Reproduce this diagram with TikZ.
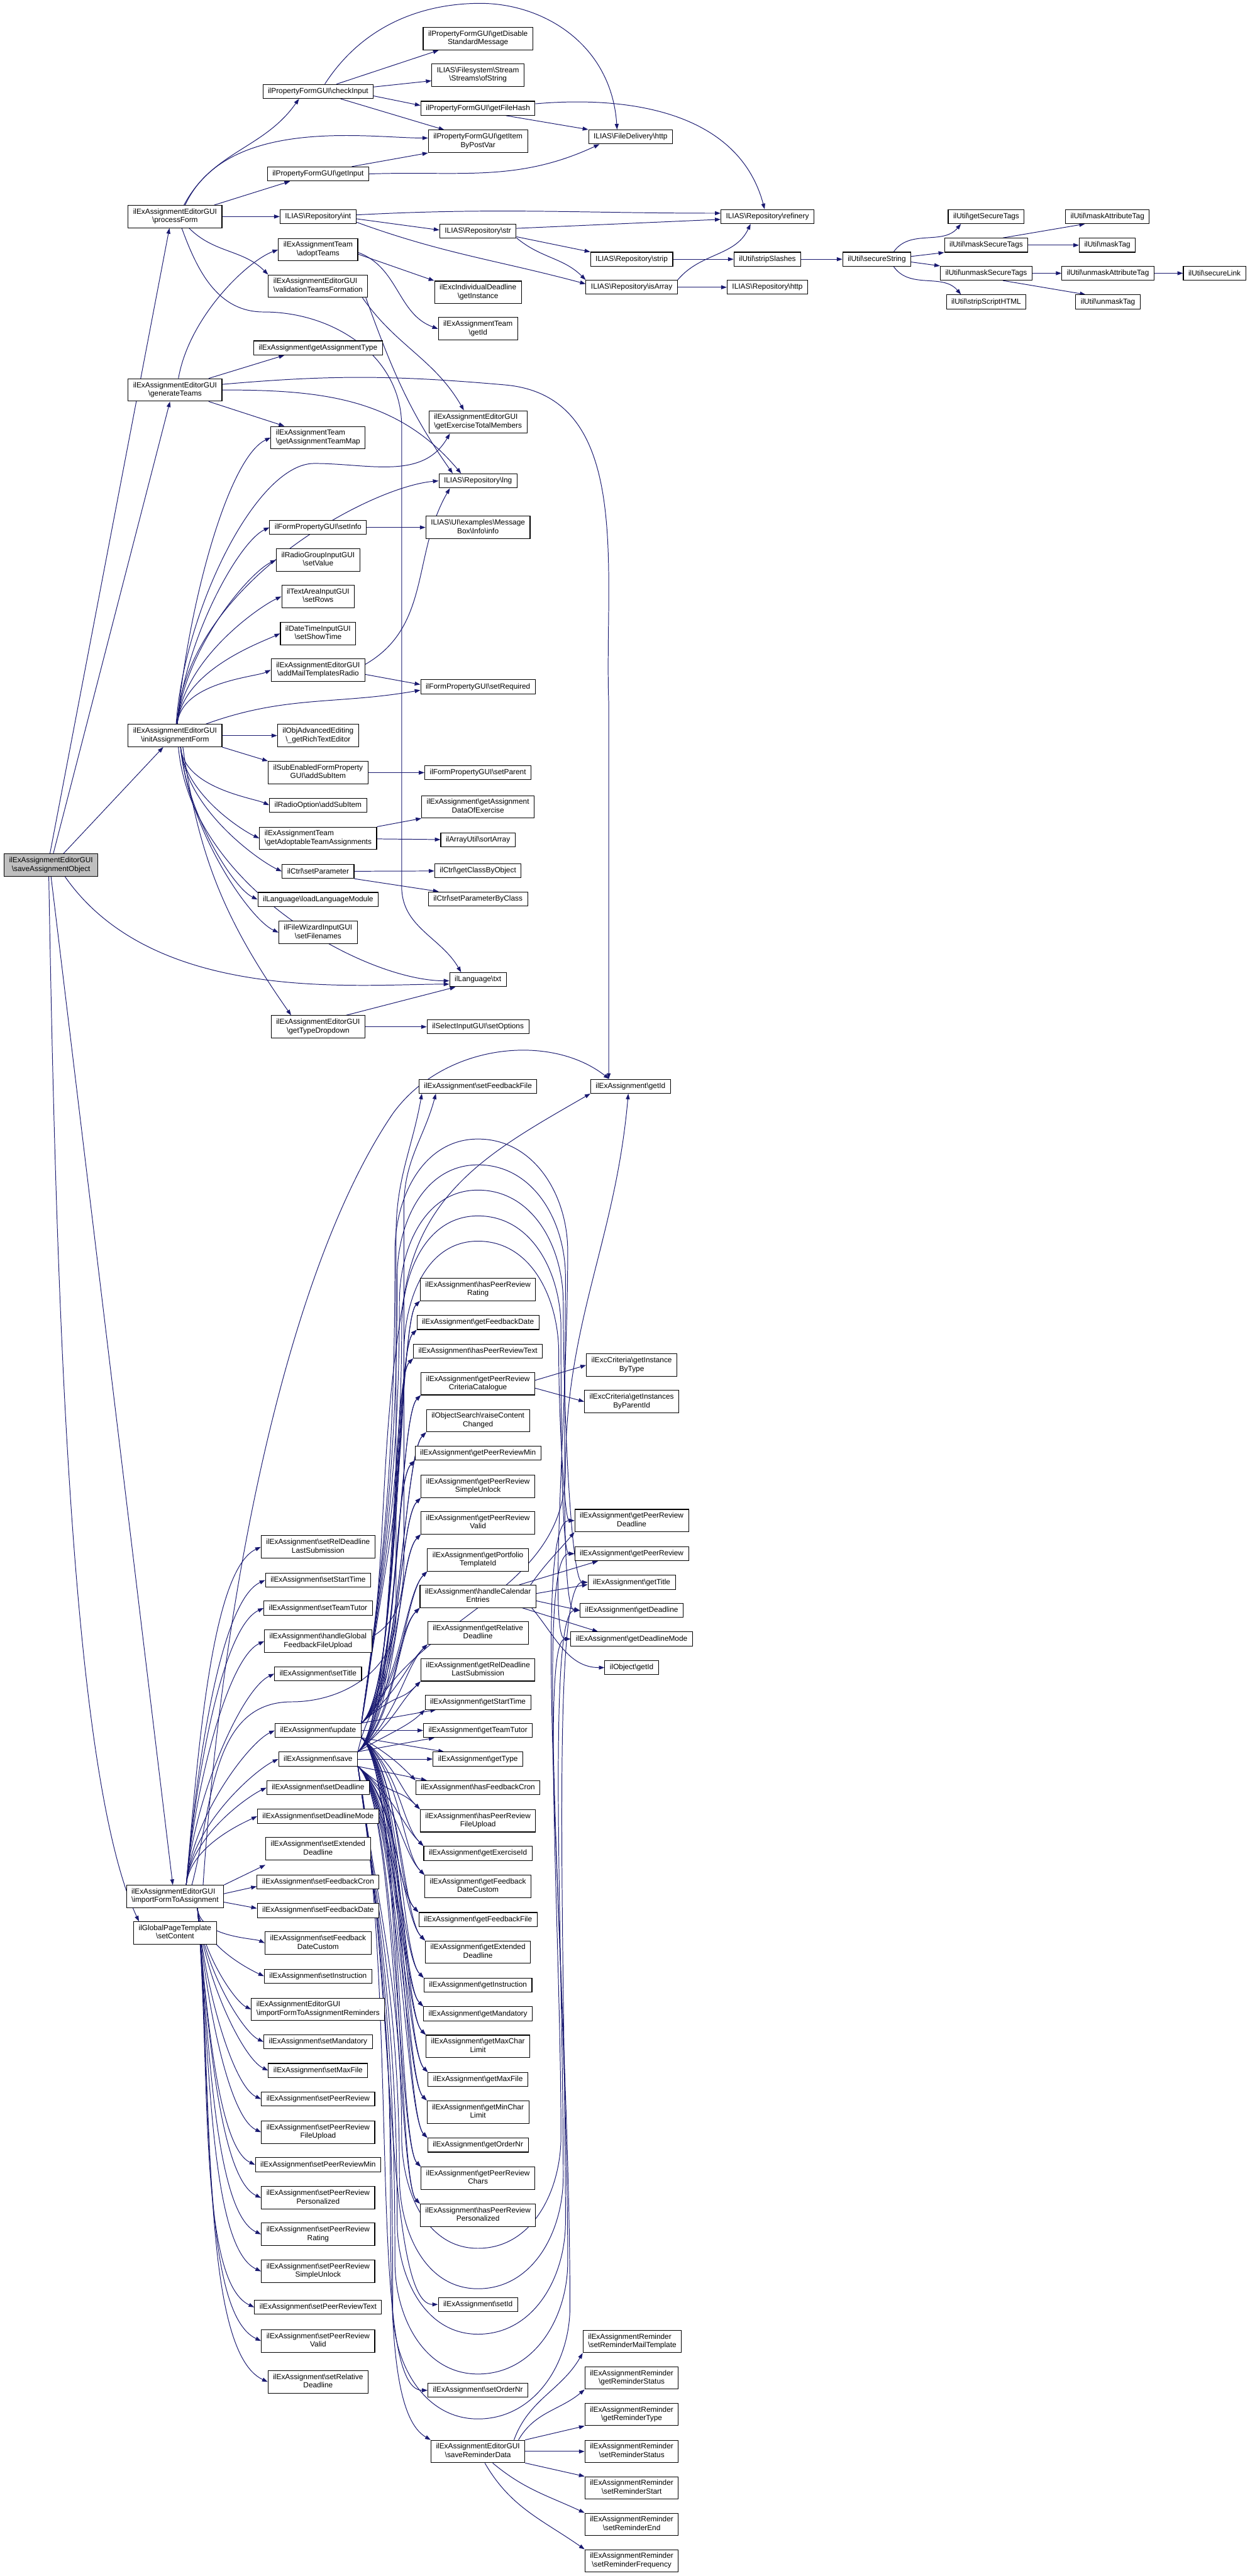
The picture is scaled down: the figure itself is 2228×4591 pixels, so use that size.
\documentclass[tikz,border=0pt]{standalone}
\usepackage{fontspec}
\setmainfont{Liberation Sans}
\usetikzlibrary{arrows.meta,backgrounds}
\definecolor{callblue}{HTML}{191970}
\newcommand\bsl{\textbackslash}
\newcommand\twolines[2]{\begin{tabular}{@{}c@{}}\multicolumn{1}{@{}l@{}}{#1}\\#2\end{tabular}}

\begin{document}
\begin{tikzpicture}[
		x=0.1pt, y=-0.1pt,
		every node/.style={font=\fontsize{1.33pt}{1.5pt}\selectfont},
		fn/.style={draw, line width=0.12pt, fill=white, inner xsep=0.9pt, inner ysep=0.5pt, minimum height=2.5pt},
		call/.style={draw=callblue, line width=0.11pt, -{Triangle[length=1pt,width=0.7pt]}},
		fanup/.style={out=85, in=205, in looseness=0.4},
		fandown/.style={out=-85, in=155, in looseness=0.4}
		]
		\useasboundingbox (0,0) rectangle (2228,4591);

		% callers on the left
		\node[fn, fill=gray!50] (saveObj) at (91,1542) {\twolines{ilExAssignmentEditorGUI}{\bsl saveAssignmentObject}};
		\node[fn] (processForm) at (312,386) {\twolines{ilExAssignmentEditorGUI}{\bsl processForm}};
		\node[fn] (generateTeams) at (312,695) {\twolines{ilExAssignmentEditorGUI}{\bsl generateTeams}};
		\node[fn] (initForm) at (312,1311) {\twolines{ilExAssignmentEditorGUI}{\bsl initAssignmentForm}};
		\node[fn] (importForm) at (312,3380) {\twolines{ilExAssignmentEditorGUI}{\bsl importFormToAssignment}};
		\node[fn] (setContent) at (312,3445) {\twolines{ilGlobalPageTemplate}{\bsl setContent}};

		\node[fn] (checkInput) at (567,163) {ilPropertyFormGUI\bsl checkInput};
		\node[fn] (getInput) at (567,310) {ilPropertyFormGUI\bsl getInput};
		\node[fn] (repInt) at (567,386) {ILIAS\bsl Repository\bsl int};
		\node[fn] (adoptTeams) at (567,445) {\twolines{ilExAssignmentTeam}{\bsl adoptTeams}};
		\node[fn] (validTeams) at (567,510) {\twolines{ilExAssignmentEditorGUI}{\bsl validationTeamsFormation}};
		\node[fn] (getAssignType) at (567,620) {ilExAssignment\bsl getAssignmentType};
		\node[fn] (teamMap) at (567,780) {\twolines{ilExAssignmentTeam}{\bsl getAssignmentTeamMap}};
		\node[fn] (setInfo) at (567,940) {ilFormPropertyGUI\bsl setInfo};
		\node[fn] (radioSetValue) at (567,998) {\twolines{ilRadioGroupInputGUI}{\bsl setValue}};
		\node[fn] (setRows) at (567,1063) {\twolines{ilTextAreaInputGUI}{\bsl setRows}};
		\node[fn] (setShowTime) at (567,1129) {\twolines{ilDateTimeInputGUI}{\bsl setShowTime}};
		\node[fn] (addMailTpl) at (567,1194) {\twolines{ilExAssignmentEditorGUI}{\bsl addMailTemplatesRadio}};
		\node[fn] (richText) at (567,1311) {\twolines{ilObjAdvancedEditing}{\bsl\_getRichTextEditor}};
		\node[fn] (subAddItem) at (567,1377) {\twolines{ilSubEnabledFormProperty}{GUI\bsl addSubItem}};
		\node[fn] (radioAddItem) at (567,1435) {ilRadioOption\bsl addSubItem};
		\node[fn] (adoptable) at (567,1494) {\twolines{ilExAssignmentTeam}{\bsl getAdoptableTeamAssignments}};
		\node[fn] (ctrlSetParam) at (567,1553) {ilCtrl\bsl setParameter};
		\node[fn] (loadLangMod) at (567,1603) {ilLanguage\bsl loadLanguageModule};
		\node[fn] (setFilenames) at (567,1662) {\twolines{ilFileWizardInputGUI}{\bsl setFilenames}};
		\node[fn] (typeDropdown) at (567,1830) {\twolines{ilExAssignmentEditorGUI}{\bsl getTypeDropdown}};

		\node[fn] (setRelLast) at (567,2757) {\twolines{ilExAssignment\bsl setRelDeadline}{LastSubmission}};
		\node[fn] (setStartTime) at (567,2816) {ilExAssignment\bsl setStartTime};
		\node[fn] (setTeamTutor) at (567,2866) {ilExAssignment\bsl setTeamTutor};
		\node[fn] (handleGlobalFb) at (567,2925) {\twolines{ilExAssignment\bsl handleGlobal}{FeedbackFileUpload}};
		\node[fn] (setTitle) at (567,2983) {ilExAssignment\bsl setTitle};
		\node[fn] (update) at (567,3084) {ilExAssignment\bsl update};
		\node[fn] (save) at (567,3135) {ilExAssignment\bsl save};
		\node[fn] (setDeadline) at (567,3186) {ilExAssignment\bsl setDeadline};
		\node[fn] (setDeadlineMode) at (567,3237) {ilExAssignment\bsl setDeadlineMode};
		\node[fn] (setExtDeadline) at (567,3295) {\twolines{ilExAssignment\bsl setExtended}{Deadline}};
		\node[fn] (setFbCron) at (567,3354) {ilExAssignment\bsl setFeedbackCron};
		\node[fn] (setFbDate) at (567,3405) {ilExAssignment\bsl setFeedbackDate};
		\node[fn] (setFbDateCustom) at (567,3463) {\twolines{ilExAssignment\bsl setFeedback}{DateCustom}};
		\node[fn] (setInstruction) at (567,3522) {ilExAssignment\bsl setInstruction};
		\node[fn] (importReminders) at (567,3581) {\twolines{ilExAssignmentEditorGUI}{\bsl importFormToAssignmentReminders}};
		\node[fn] (setMandatory) at (567,3639) {ilExAssignment\bsl setMandatory};
		\node[fn] (setMaxFile) at (567,3690) {ilExAssignment\bsl setMaxFile};
		\node[fn] (setPeerReview) at (567,3741) {ilExAssignment\bsl setPeerReview};
		\node[fn] (setPrFileUpload) at (567,3800) {\twolines{ilExAssignment\bsl setPeerReview}{FileUpload}};
		\node[fn] (setPrMin) at (567,3858) {ilExAssignment\bsl setPeerReviewMin};
		\node[fn] (setPrPersonalized) at (567,3917) {\twolines{ilExAssignment\bsl setPeerReview}{Personalized}};
		\node[fn] (setPrRating) at (567,3982) {\twolines{ilExAssignment\bsl setPeerReview}{Rating}};
		\node[fn] (setPrUnlock) at (567,4048) {\twolines{ilExAssignment\bsl setPeerReview}{SimpleUnlock}};
		\node[fn] (setPrText) at (567,4112) {ilExAssignment\bsl setPeerReviewText};
		\node[fn] (setPrValid) at (567,4172) {\twolines{ilExAssignment\bsl setPeerReview}{Valid}};
		\node[fn] (setRelDeadline) at (567,4245) {\twolines{ilExAssignment\bsl setRelative}{Deadline}};

		% callees, fourth column
		\node[fn] (pfDisable) at (852,69) {\twolines{ilPropertyFormGUI\bsl getDisable}{StandardMessage}};
		\node[fn] (fsStream) at (852,134) {\twolines{ILIAS\bsl Filesystem\bsl Stream}{\bsl Streams\bsl ofString}};
		\node[fn] (pfFileHash) at (852,193) {ilPropertyFormGUI\bsl getFileHash};
		\node[fn] (pfItem) at (852,252) {\twolines{ilPropertyFormGUI\bsl getItem}{ByPostVar}};
		\node[fn] (repStr) at (852,412) {ILIAS\bsl Repository\bsl str};
		\node[fn] (indivDeadline) at (852,521) {\twolines{ilExcIndividualDeadline}{\bsl getInstance}};
		\node[fn] (teamGetId) at (852,586) {\twolines{ilExAssignmentTeam}{\bsl getId}};
		\node[fn] (totalMembers) at (852,752) {\twolines{ilExAssignmentEditorGUI}{\bsl getExerciseTotalMembers}};
		\node[fn] (repLng) at (852,857) {ILIAS\bsl Repository\bsl lng};
		\node[fn] (msgBoxInfo) at (852,940) {\twolines{ILIAS\bsl UI\bsl examples\bsl Message}{Box\bsl Info\bsl info}};
		\node[fn] (setRequired) at (852,1224) {ilFormPropertyGUI\bsl setRequired};
		\node[fn] (setParent) at (852,1377) {ilFormPropertyGUI\bsl setParent};
		\node[fn] (dataOfExercise) at (852,1438) {\twolines{ilExAssignment\bsl getAssignment}{DataOfExercise}};
		\node[fn] (sortArray) at (852,1497) {ilArrayUtil\bsl sortArray};
		\node[fn] (getClassByObj) at (852,1552) {ilCtrl\bsl getClassByObject};
		\node[fn] (setParamByClass) at (852,1602) {ilCtrl\bsl setParameterByClass};
		\node[fn] (langTxt) at (852,1746) {ilLanguage\bsl txt};
		\node[fn] (setOptions) at (852,1830) {ilSelectInputGUI\bsl setOptions};
		\node[fn] (setFbFile) at (852,1936) {ilExAssignment\bsl setFeedbackFile};

		\node[fn] (hasPrRating) at (852,2298) {\twolines{ilExAssignment\bsl hasPeerReview}{Rating}};
		\node[fn] (getFbDate) at (852,2357) {ilExAssignment\bsl getFeedbackDate};
		\node[fn] (hasPrText) at (852,2408) {ilExAssignment\bsl hasPeerReviewText};
		\node[fn] (getPrCatalogue) at (852,2466) {\twolines{ilExAssignment\bsl getPeerReview}{CriteriaCatalogue}};
		\node[fn] (raiseChanged) at (852,2532) {\twolines{ilObjectSearch\bsl raiseContent}{Changed}};
		\node[fn] (getPrMin) at (852,2590) {ilExAssignment\bsl getPeerReviewMin};
		\node[fn] (getPrUnlock) at (852,2649) {\twolines{ilExAssignment\bsl getPeerReview}{SimpleUnlock}};
		\node[fn] (getPrValid) at (852,2714) {\twolines{ilExAssignment\bsl getPeerReview}{Valid}};
		\node[fn] (getPortfolio) at (852,2780) {\twolines{ilExAssignment\bsl getPortfolio}{TemplateId}};
		\node[fn] (handleCal) at (852,2845) {\twolines{ilExAssignment\bsl handleCalendar}{Entries}};
		\node[fn] (getRelDeadline) at (852,2910) {\twolines{ilExAssignment\bsl getRelative}{Deadline}};
		\node[fn] (getRelLast) at (852,2976) {\twolines{ilExAssignment\bsl getRelDeadline}{LastSubmission}};
		\node[fn] (getStartTime) at (852,3034) {ilExAssignment\bsl getStartTime};
		\node[fn] (getTeamTutor) at (852,3084) {ilExAssignment\bsl getTeamTutor};
		\node[fn] (getType) at (852,3135) {ilExAssignment\bsl getType};
		\node[fn] (hasFbCron) at (852,3186) {ilExAssignment\bsl hasFeedbackCron};
		\node[fn] (hasPrUpload) at (852,3245) {\twolines{ilExAssignment\bsl hasPeerReview}{FileUpload}};
		\node[fn] (getExerciseId) at (852,3303) {ilExAssignment\bsl getExerciseId};
		\node[fn] (getFbDateCustom) at (852,3362) {\twolines{ilExAssignment\bsl getFeedback}{DateCustom}};
		\node[fn] (getFbFile) at (852,3421) {ilExAssignment\bsl getFeedbackFile};
		\node[fn] (getExtDeadline) at (852,3479) {\twolines{ilExAssignment\bsl getExtended}{Deadline}};
		\node[fn] (getInstruction) at (852,3538) {ilExAssignment\bsl getInstruction};
		\node[fn] (getMandatory) at (852,3589) {ilExAssignment\bsl getMandatory};
		\node[fn] (getMaxChar) at (852,3647) {\twolines{ilExAssignment\bsl getMaxChar}{Limit}};
		\node[fn] (getMaxFile) at (852,3706) {ilExAssignment\bsl getMaxFile};
		\node[fn] (getMinChar) at (852,3764) {\twolines{ilExAssignment\bsl getMinChar}{Limit}};
		\node[fn] (getOrderNr) at (852,3823) {ilExAssignment\bsl getOrderNr};
		\node[fn] (getPrChars) at (852,3882) {\twolines{ilExAssignment\bsl getPeerReview}{Chars}};
		\node[fn] (hasPrPersonal) at (852,3948) {\twolines{ilExAssignment\bsl hasPeerReview}{Personalized}};
		\node[fn] (setId) at (852,4107) {ilExAssignment\bsl setId};
		\node[fn] (setOrderNr) at (852,4260) {ilExAssignment\bsl setOrderNr};
		\node[fn] (saveReminder) at (852,4369) {\twolines{ilExAssignmentEditorGUI}{\bsl saveReminderData}};

		% fifth column and further right
		\node[fn] (http) at (1124,244) {ILIAS\bsl FileDelivery\bsl http};
		\node[fn] (repStrip) at (1126,462) {ILIAS\bsl Repository\bsl strip};
		\node[fn] (isArray) at (1126,512) {ILIAS\bsl Repository\bsl isArray};
		\node[fn] (exGetId) at (1124,1936) {ilExAssignment\bsl getId};
		\node[fn] (byType) at (1126,2433) {\twolines{ilExcCriteria\bsl getInstance}{ByType}};
		\node[fn] (byParent) at (1126,2498) {\twolines{ilExcCriteria\bsl getInstances}{ByParentId}};
		\node[fn] (getPrDeadline) at (1126,2710) {\twolines{ilExAssignment\bsl getPeerReview}{Deadline}};
		\node[fn] (getPeerReview) at (1126,2769) {ilExAssignment\bsl getPeerReview};
		\node[fn] (getTitle) at (1126,2820) {ilExAssignment\bsl getTitle};
		\node[fn] (getDeadline) at (1126,2870) {ilExAssignment\bsl getDeadline};
		\node[fn] (getDeadlineMode) at (1126,2921) {ilExAssignment\bsl getDeadlineMode};
		\node[fn] (objGetId) at (1126,2972) {ilObject\bsl getId};
		\node[fn] (remMailTpl) at (1127,4173) {\twolines{ilExAssignmentReminder}{\bsl setReminderMailTemplate}};
		\node[fn] (remGetStatus) at (1126,4238) {\twolines{ilExAssignmentReminder}{\bsl getReminderStatus}};
		\node[fn] (remGetType) at (1126,4303) {\twolines{ilExAssignmentReminder}{\bsl getReminderType}};
		\node[fn] (remSetStatus) at (1126,4369) {\twolines{ilExAssignmentReminder}{\bsl setReminderStatus}};
		\node[fn] (remSetStart) at (1126,4434) {\twolines{ilExAssignmentReminder}{\bsl setReminderStart}};
		\node[fn] (remSetEnd) at (1126,4499) {\twolines{ilExAssignmentReminder}{\bsl setReminderEnd}};
		\node[fn] (remSetFreq) at (1126,4564) {\twolines{ilExAssignmentReminder}{\bsl setReminderFrequency}};

		\node[fn] (refinery) at (1368,386) {ILIAS\bsl Repository\bsl refinery};
		\node[fn] (stripSlashes) at (1368,462) {ilUtil\bsl stripSlashes};
		\node[fn] (repHttp) at (1368,512) {ILIAS\bsl Repository\bsl http};
		\node[fn] (secureString) at (1563,462) {ilUtil\bsl secureString};
		\node[fn] (getSecureTags) at (1758,386) {ilUtil\bsl getSecureTags};
		\node[fn] (maskSecureTags) at (1758,437) {ilUtil\bsl maskSecureTags};
		\node[fn] (unmaskSecureTags) at (1758,487) {ilUtil\bsl unmaskSecureTags};
		\node[fn] (stripScriptHTML) at (1758,538) {ilUtil\bsl stripScriptHTML};
		\node[fn] (maskAttrTag) at (1974,386) {ilUtil\bsl maskAttributeTag};
		\node[fn] (maskTag) at (1974,437) {ilUtil\bsl maskTag};
		\node[fn] (unmaskAttrTag) at (1975,487) {ilUtil\bsl unmaskAttributeTag};
		\node[fn] (unmaskTag) at (1975,538) {ilUtil\bsl unmaskTag};
		\node[fn] (secureLink) at (2165,487) {ilUtil\bsl secureLink};

		\begin{pgfonlayer}{background}
		% saveAssignmentObject
		\draw[call] ([xshift=-0.2pt]saveObj.north) -- ([xshift=-1pt]processForm.south);
		\draw[call] ([xshift=0.4pt]saveObj.north) -- ([xshift=-0.9pt]generateTeams.south);
		\draw[call] ([xshift=2.2pt]saveObj.north) -- ([xshift=-2.1pt]initForm.south);
		\draw[call] ([xshift=2.5pt]saveObj.south) to[out=-55, in=180, in looseness=0.6] ([yshift=-0.8pt]langTxt.west);
		\draw[call] (saveObj.south) -- ([xshift=-0.4pt]importForm.north);
		\draw[call] ([xshift=-0.4pt]saveObj.south) to[out=-89, in=115, in looseness=0.4] ([xshift=1pt]setContent.north west);

		% processForm
		\draw[call] ([xshift=1.6pt]processForm.north) to[out=62, in=-125] ([xshift=-3.4pt]checkInput.south);
		\draw[call] ([xshift=1.8pt]processForm.north) to[out=65, in=180, in looseness=0.6] ([yshift=0.6pt]pfItem.west);
		\draw[call] ([xshift=7pt]processForm.north) -- ([xshift=-5pt]getInput.south);
		\draw[call] (processForm) -- (repInt);
		\draw[call] ([xshift=2.5pt]processForm.south) to[out=-45, in=135] (validTeams.north west);
		\draw[call] ([xshift=1.2pt]processForm.south) to[out=-70, in=180] (470,556) to[out=0, in=90] (716,760) -- (716,1580) to[out=-90, in=120] ([xshift=-3pt]langTxt.north);

		\draw[call] ([xshift=1.2pt]checkInput.north) .. controls (650,40) and (760,6) .. (856,6) .. controls (970,6) and (1090,80) .. ([xshift=-2.4pt]http.north);
		\draw[call] ([xshift=3.3pt]checkInput.north) -- ([xshift=-7pt]pfDisable.south);
		\draw[call] ([yshift=0.8pt]checkInput.east) -- ([yshift=-1pt]fsStream.west);
		\draw[call] ([yshift=-0.8pt]checkInput.east) -- ([yshift=0.5pt]pfFileHash.west);
		\draw[call] ([xshift=4pt]checkInput.south) -- ([xshift=-6pt]pfItem.north);
		\draw[call] ([xshift=5pt]pfFileHash.south) -- (http.north west);
		\draw[call] ([yshift=0.8pt]pfFileHash.east) to[out=5, in=105] ([xshift=-0.5pt]refinery.north);
		\draw[call] ([xshift=6pt]getInput.north) -- (pfItem.south west);
		\draw[call] (getInput.east) to[out=2, in=-155] ([xshift=2pt]http.south west);

		\draw[call] ([yshift=0.3pt]repInt.east) to[out=3, in=180] ([yshift=0.6pt]refinery.west);
		\draw[call] ([yshift=-0.4pt]repInt.east) -- ([yshift=0.2pt]repStr.west);
		\draw[call] ([yshift=-1pt]repInt.east) to[out=-20, in=165] ([yshift=0.6pt]isArray.west);
		\draw[call] ([yshift=0.5pt]repStr.east) -- ([yshift=-0.5pt]refinery.west);
		\draw[call] ([yshift=-1pt]repStr.east) -- (repStrip.north west);
		\draw[call] ([yshift=-1.2pt]repStr.east) to[out=-40, in=135] (isArray.north west);
		\draw[call] (repStrip) -- (stripSlashes);
		\draw[call] (isArray.north east) to[out=50, in=-115] ([xshift=-3pt]refinery.south);
		\draw[call] (isArray) -- (repHttp);
		\draw[call] (stripSlashes) -- (secureString);
		\draw[call] ([xshift=3pt]secureString.north) to[out=55, in=-130] ([xshift=-4.5pt]getSecureTags.south);
		\draw[call] ([yshift=0.5pt]secureString.east) -- (maskSecureTags.south west);
		\draw[call] ([yshift=-0.5pt]secureString.east) -- (unmaskSecureTags.north west);
		\draw[call] ([xshift=3pt]secureString.south) to[out=-55, in=130] ([xshift=-4.5pt]stripScriptHTML.north);
		\draw[call] ([xshift=3pt]maskSecureTags.north) -- ([xshift=-4pt]maskAttrTag.south);
		\draw[call] (maskSecureTags) -- (maskTag);
		\draw[call] (unmaskSecureTags) -- (unmaskAttrTag);
		\draw[call] ([xshift=3pt]unmaskSecureTags.south) -- ([xshift=-4pt]unmaskTag.north);
		\draw[call] (unmaskAttrTag) -- (secureLink);

		% teams
		\draw[call] ([yshift=-0.8pt]adoptTeams.east) -- (indivDeadline.north west);
		\draw[call] ([yshift=-0.5pt]adoptTeams.east) to[out=-20, in=160] (teamGetId.west);
		\draw[call] ([xshift=-1pt]validTeams.south east) to[out=-55, in=120] ([xshift=-2.5pt]totalMembers.north);
		\draw[call] ([xshift=-0.4pt]validTeams.south east) to[out=-70, in=125] ([xshift=-4.5pt]repLng.north);
		\draw[call] ([xshift=0.6pt]generateTeams.north) to[out=80, in=200, in looseness=0.5] (adoptTeams.west);
		\draw[call] ([xshift=6pt]generateTeams.north) -- ([xshift=-6pt]getAssignType.south);
		\draw[call] ([xshift=6pt]generateTeams.south) -- ([xshift=-6pt]teamMap.north);
		\draw[call] (generateTeams.east) to[out=0, in=130] ([xshift=-3pt]repLng.north);
		\draw[call] ([yshift=1pt]generateTeams.east) to[out=5, in=175] (900,686) to[out=-5, in=92] (1085,1250) -- ([xshift=-3.9pt]exGetId.north);

		% initAssignmentForm
		\foreach \tgt in {teamMap, setInfo, radioSetValue, setRows, setShowTime, addMailTpl}
			\draw[call] ([xshift=0.4pt]initForm.north) to[fanup] (\tgt.west);
		\draw[call] ([xshift=0.2pt]initForm.north) to[out=86, in=180, in looseness=0.5] (560,826) to[out=0, in=-120] ([xshift=-5pt]totalMembers.south);
		\draw[call] ([xshift=0.3pt]initForm.north) to[out=86, in=185, in looseness=0.5] (repLng.west);
		\draw[call] ([xshift=5.5pt]initForm.north) to[out=20, in=190] ([yshift=-0.6pt]setRequired.west);
		\draw[call] (initForm) -- (richText);
		\draw[call] (initForm.south east) -- (subAddItem.north west);
		\foreach \tgt in {radioAddItem, adoptable, ctrlSetParam, loadLangMod, setFilenames}
			\draw[call] ([xshift=1pt]initForm.south) to[fandown] (\tgt.west);
		\draw[call] ([xshift=0.6pt]initForm.south) to[out=-85, in=180, in looseness=0.6] ([yshift=-0.2pt]langTxt.west);
		\draw[call] ([xshift=1.4pt]initForm.south) to[out=-82, in=125] ([xshift=-4.8pt]typeDropdown.north);

		\draw[call] ([yshift=1pt]addMailTpl.east) to[out=30, in=-120] ([xshift=-5pt]repLng.south);
		\draw[call] ([yshift=-0.8pt]addMailTpl.east) -- ([yshift=0.4pt]setRequired.west);
		\draw[call] (setInfo) -- (msgBoxInfo);
		\draw[call] (subAddItem) -- (setParent);
		\draw[call] (adoptable.north east) -- (dataOfExercise.south west);
		\draw[call] (adoptable) -- (sortArray);
		\draw[call] (ctrlSetParam) -- (getClassByObj);
		\draw[call] (ctrlSetParam.south east) -- ([xshift=-7pt]setParamByClass.north);
		\draw[call] ([xshift=5pt]typeDropdown.north) -- ([xshift=-4pt]langTxt.south);
		\draw[call] (typeDropdown) -- (setOptions);

		% importFormToAssignment
		\foreach \tgt in {setRelLast, setStartTime, setTeamTutor, handleGlobalFb, setTitle, update, save, setDeadline, setDeadlineMode}
			\draw[call] ([xshift=2pt]importForm.north) to[fanup] (\tgt.west);
		\draw[call] (importForm.north east) -- ([yshift=-0.8pt]setExtDeadline.south west);
		\draw[call] ([yshift=0.5pt]importForm.east) -- ([yshift=-0.8pt]setFbCron.west);
		\draw[call] ([yshift=-1pt]importForm.east) -- ([yshift=0.4pt]setFbDate.west);
		\foreach \tgt in {setFbDateCustom, setInstruction, importReminders, setMandatory, setMaxFile, setPeerReview, setPrFileUpload, setPrMin, setPrPersonalized, setPrRating, setPrUnlock, setPrText, setPrValid, setRelDeadline}
			\draw[call] ([xshift=4pt]importForm.south) to[fandown] (\tgt.west);
		\draw[call] ([xshift=5pt]importForm.north) .. controls (400,2800) and (520,2250) .. (700,1985) .. controls (790,1860) and (980,1840) .. ([xshift=-3.8pt]exGetId.north);
		\draw[call] ([xshift=3pt]importForm.north) to[out=75, in=180] (520,3033) to[out=0, in=-90] (706,2880) -- (706,2200) to[out=90, in=-100] ([xshift=-10pt]setFbFile.south);
		\draw[call] ([yshift=0.8pt]handleGlobalFb.east) to[out=30, in=-90] (720,2750) -- (720,2150) to[out=90, in=-105] ([xshift=-7.5pt]setFbFile.south);

		% update and save
		\foreach \tgt in {hasPrRating, getFbDate, hasPrText, getPrCatalogue, raiseChanged, getPrMin, getPrUnlock, getPrValid, getPortfolio, handleCal, getRelDeadline, getRelLast}
		{
			\draw[call] (update.north east) .. controls +(70,-60) and +(-40,40) .. (\tgt.south west);
			\draw[call] (save.north east) .. controls +(70,-60) and +(-40,40) .. (\tgt.south west);
		}
		\draw[call] (update.north east) -- ([xshift=2pt]getStartTime.south west);
		\draw[call] (save.north east) .. controls +(50,-30) and +(-30,30) .. (getStartTime.south west);
		\draw[call] (update) -- (getTeamTutor);
		\draw[call] (save.north east) -- ([xshift=2pt]getTeamTutor.south west);
		\draw[call] (update.south east) -- ([xshift=2pt]getType.north west);
		\draw[call] (save) -- (getType);
		\draw[call] (update.south east) .. controls +(50,30) and +(-30,-30) .. (hasFbCron.north west);
		\draw[call] (save.south east) -- ([xshift=2pt]hasFbCron.north west);
		\foreach \tgt in {hasPrUpload, getExerciseId, getFbDateCustom, getFbFile, getExtDeadline, getInstruction, getMandatory, getMaxChar, getMaxFile, getMinChar, getOrderNr, getPrChars, hasPrPersonal}
		{
			\draw[call] (update.south east) .. controls +(70,60) and +(-40,-40) .. (\tgt.north west);
			\draw[call] (save.south east) .. controls +(70,60) and +(-40,-40) .. (\tgt.north west);
		}
		\foreach \tgt/\peak/\lx in {getDeadlineMode/2030/704, getDeadline/2076/708, getTitle/2121/712, getPeerReview/2167/716, getPrDeadline/2212/720}
			\draw[call] (update.north east) to[out=82, in=-90] (\lx,\peak+200) to[out=90, in=180] (852,\peak) to[out=0, in=90] (1716-\lx,\peak+200) to[out=-90, in=180, in looseness=0.15] (\tgt.west);
		\foreach \tgt/\dip/\lx in {getPrDeadline/4311/700, getPeerReview/4231/704, getTitle/4160/708, getDeadline/4079/712, getDeadlineMode/4007/716}
			\draw[call] (save.south east) to[out=-82, in=90] (\lx,\dip-200) to[out=-90, in=180] (852,\dip) to[out=0, in=-90] (1716-\lx,\dip-200) to[out=90, in=180, in looseness=0.15] (\tgt.west);
		\draw[call] (update.north east) to[out=80, in=-100] (722,2300) to[out=80, in=-150] (exGetId.south west);
		\draw[call] (save.north east) to[out=78, in=-90] (1008,2620) to[out=90, in=-95] ([xshift=-0.4pt]exGetId.south);
		\draw[call] (save.south east) to[out=-80, in=180, in looseness=0.25] (setId.west);
		\draw[call] (save.south east) to[out=-80, in=180, in looseness=0.25] (setOrderNr.west);

		\draw[call] ([xshift=-1pt]handleCal.north east) to[out=55, in=-130] (getPrDeadline.south west);
		\draw[call] ([xshift=-3pt]handleCal.north east) -- ([xshift=-6pt]getPeerReview.south);
		\draw[call] ([yshift=0.5pt]handleCal.east) -- ([yshift=-0.4pt]getTitle.west);
		\draw[call] ([yshift=-0.8pt]handleCal.east) -- (getDeadline.west);
		\draw[call] ([xshift=-2.5pt]handleCal.south east) -- ([xshift=-6pt]getDeadlineMode.north);
		\draw[call] ([xshift=-0.8pt]handleCal.south east) to[out=-50, in=180] (objGetId.west);
		\draw[call] ([yshift=0.6pt]getPrCatalogue.east) -- (byType.west);
		\draw[call] ([yshift=-0.8pt]getPrCatalogue.east) -- (byParent.west);

		% reminders
		\draw[call] (importReminders.south east) to[out=-85, in=150, in looseness=0.4] (saveReminder.north west);
		\draw[call] ([xshift=-2pt]saveReminder.north east) to[out=70, in=-120] (remMailTpl.south west);
		\draw[call] ([xshift=-1.2pt]saveReminder.north east) to[out=60, in=-140] (remGetStatus.south west);
		\draw[call] (saveReminder.north east) -- (remGetType.south west);
		\draw[call] (saveReminder) -- (remSetStatus);
		\draw[call] (saveReminder.south east) -- (remSetStart.north west);
		\draw[call] ([xshift=-5.8pt]saveReminder.south east) to[out=-40, in=155] (remSetEnd.north west);
		\draw[call] ([xshift=-7.2pt]saveReminder.south east) to[out=-60, in=145] (remSetFreq.north west);
		\end{pgfonlayer}

	\end{tikzpicture}
\end{document}
